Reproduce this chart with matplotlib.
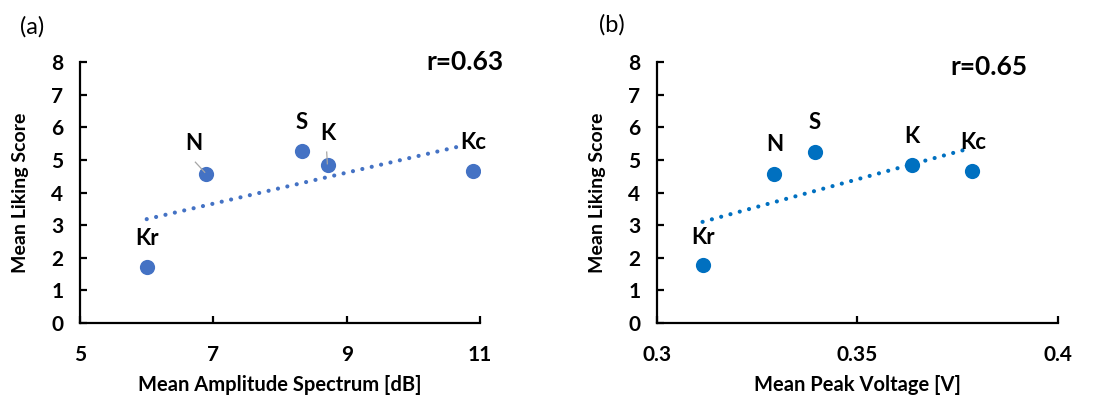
import numpy as np
import matplotlib
matplotlib.use("Agg")
import matplotlib.pyplot as plt

plt.rcParams['font.family'] = ['Lato', 'DejaVu Sans']

# data
labels = ['Kr', 'N', 'S', 'K', 'Kc']
amp_db = [6.0, 6.89, 8.33, 8.72, 10.9]
peak_v = [0.3114, 0.3293, 0.3394, 0.3636, 0.3786]
liking = [1.72, 4.57, 5.27, 4.84, 4.67]
liking_b = [1.77, 4.57, 5.25, 4.84, 4.66]

# label positions (data coords)
lab_a = [(6.0, 2.6), (6.71, 5.49), (8.33, 6.14), (8.72, 5.82), (10.9, 5.52)]
lab_b = [(0.3114, 2.63), (0.3293, 5.46), (0.3394, 6.14), (0.3636, 5.71), (0.3788, 5.53)]

col_a = '#4472C4'
col_b = '#0070C0'

fig = plt.figure(figsize=(11.04, 3.98), dpi=100)
ax1 = fig.add_axes([0.0725, 0.1884, 0.3623, 0.6558])
ax2 = fig.add_axes([0.595, 0.1884, 0.3632, 0.6558])


def style(ax):
    for s in ['top', 'right']:
        ax.spines[s].set_visible(False)
    for s in ['left', 'bottom']:
        ax.spines[s].set_linewidth(1.6)
    ax.set_ylim(0, 8)
    ax.set_yticks(range(9))
    ax.tick_params(direction='in', length=5, width=1.6, labelsize=15)
    ax.tick_params(axis='x', pad=16)
    ax.tick_params(axis='y', pad=12)
    for t in ax.get_xticklabels() + ax.get_yticklabels():
        t.set_fontweight('bold')
    ax.set_ylabel('Mean Liking Score', fontsize=14, fontweight='bold', labelpad=16)


def panel(ax, x, y, lab, col):
    ax.scatter(x, y, s=120, color=col, zorder=3, linewidths=0)
    k, b = np.polyfit(x, y, 1)
    xs = np.array([min(x), max(x) - (max(x) - min(x)) * 0.03])
    ax.plot(xs, k * xs + b, color=col, lw=3, linestyle=(0, (0.01, 2.3)),
            dash_capstyle='round', zorder=2)
    for name, (lx, ly) in zip(labels, lab):
        ax.text(lx, ly, name, ha='center', va='center', fontsize=16, fontweight='bold')


panel(ax1, amp_db, liking, lab_a, col_a)
ax1.set_xlim(5, 11)
ax1.set_xticks([5, 7, 9, 11])
ax1.set_xlabel('Mean Amplitude Spectrum [dB]', fontsize=14.5, fontweight='bold', labelpad=7)
ax1.text(10.78, 8.0, 'r=0.63', ha='center', va='center', fontsize=19, fontweight='bold')
# leader lines
ax1.plot([6.73, 6.87], [4.93, 4.62], color='#a6a6a6', lw=0.9, zorder=4)
ax1.plot([8.70, 8.71], [5.24, 4.88], color='#a6a6a6', lw=0.9, zorder=4)
style(ax1)

panel(ax2, peak_v, liking_b, lab_b, col_b)
ax2.set_xlim(0.3, 0.4)
ax2.set_xticks([0.3, 0.35, 0.4])
ax2.set_xticklabels(['0.3', '0.35', '0.4'])
ax2.set_xlabel('Mean Peak Voltage [V]', fontsize=14.5, fontweight='bold', labelpad=7)
ax2.text(0.3828, 7.85, 'r=0.65', ha='center', va='center', fontsize=19, fontweight='bold')
style(ax2)

fig.text(32 / 1104, 1 - 27 / 398, '(a)', ha='center', va='center', fontsize=17)
fig.text(612 / 1104, 1 - 25 / 398, '(b)', ha='center', va='center', fontsize=17)

fig.savefig('out.png', dpi=100)
